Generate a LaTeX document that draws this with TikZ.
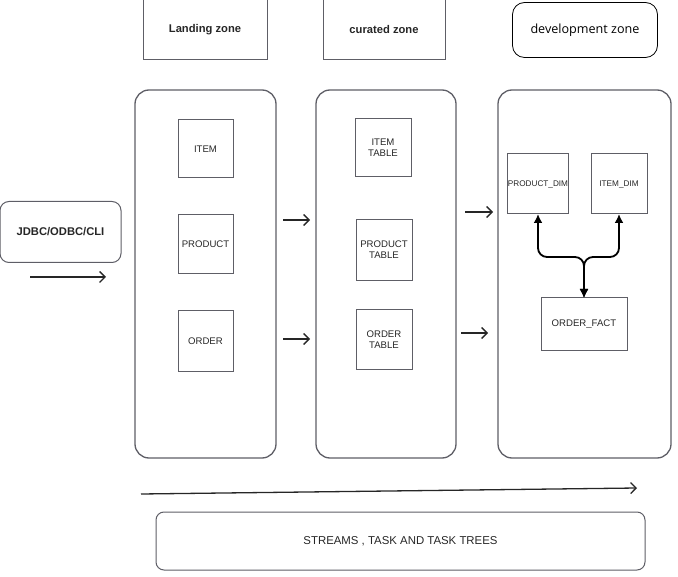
\documentclass[tikz,border=0pt]{standalone}
\usepackage{fontspec}
\setmainfont{Liberation Sans}
\newfontfamily\zonefont{Open Sans}
\usetikzlibrary{arrows.meta}
\definecolor{edge}{HTML}{5E5E66}
\definecolor{ink}{HTML}{262626}
\begin{document}
\begin{tikzpicture}[x=1pt,y=-1pt,
  panel/.style={draw=edge, line width=1.3pt, rounded corners=14pt},
  tablebox/.style={draw=edge, line width=1pt, inner sep=0pt, outer sep=0pt,
    text=ink, font=\fontsize{9.6}{11}\selectfont, align=center},
  dimbox/.style={tablebox, font=\fontsize{8.2}{10}\selectfont},
  zonebox/.style={draw=edge, line width=1pt, inner sep=0pt, outer sep=0pt,
    text=ink, font=\fontsize{11.2}{13}\selectfont\bfseries},
  flow/.style={draw=ink, line width=1.3pt, -{Straight Barb[length=5.5pt,width=11pt]}},
  link/.style={draw=black, line width=1.8pt, rounded corners=9pt,
    {Latex[length=9pt,width=9pt]}-{Latex[length=9pt,width=9pt]}}
]
\useasboundingbox (0,0) rectangle (678,577);

% zone headers
\node[zonebox, minimum width=124, minimum height=60] (landing) at (205,30) {Landing zone};
\node[zonebox, minimum width=122, minimum height=60] (curated) at (384,30) {curated zone};
\node[draw=black, line width=0.8pt, rounded corners=12pt, minimum width=145, minimum height=55,
  inner sep=0pt, font=\zonefont\fontsize{12.6}{15}\selectfont, text=black] (devzone) at (585,30) {development zone};

% zone panels
\node[panel, minimum width=141, minimum height=368] (landpanel) at (205.5,274) {};
\node[panel, minimum width=140, minimum height=368] (curpanel) at (386,274) {};
\node[panel, minimum width=173, minimum height=368] (devpanel) at (584.5,274) {};

% landing tables
\node[tablebox, minimum width=55, minimum height=58] (item) at (205.5,149) {ITEM};
\node[tablebox, minimum width=55, minimum height=59] (product) at (205.5,244) {PRODUCT};
\node[tablebox, minimum width=55, minimum height=61] (order) at (205.5,341) {ORDER};

% curated tables
\node[tablebox, minimum width=56, minimum height=58] (itemt) at (383,148) {ITEM\\TABLE};
\node[tablebox, minimum width=56, minimum height=61] (productt) at (384,250) {PRODUCT\\TABLE};
\node[tablebox, minimum width=56, minimum height=60] (ordert) at (384,340) {ORDER\\TABLE};

% dimensional model
\node[dimbox, minimum width=56, minimum height=60] (pdim) at (538,184) {PRODUCT\_DIM};
\node[dimbox, minimum width=56, minimum height=60] (idim) at (619,184) {ITEM\_DIM};
\node[tablebox, minimum width=86, minimum height=53] (ofact) at (584,324.5) {ORDER\_FACT};
\coordinate (hub) at (584,257);
\draw[link] (pdim.south) |- (ofact.north |- hub) -- (ofact.north);
\draw[link] (idim.south) |- (ofact.north |- hub) -- (ofact.north);

% source
\node[draw=edge, line width=1pt, rounded corners=9pt, minimum width=121, minimum height=61,
  inner sep=0pt, text=ink, font=\fontsize{11.2}{13}\selectfont\bfseries] (src) at (60.5,232) {JDBC/ODBC/CLI};

% flow arrows
\coordinate (s1) at (30,277);   \coordinate (e1) at (106,277);
\coordinate (s2) at (283,220);  \coordinate (e2) at (310,220);
\coordinate (s3) at (283,339);  \coordinate (e3) at (310,339);
\coordinate (s4) at (465,212);  \coordinate (e4) at (493,212);
\coordinate (s5) at (461,333);  \coordinate (e5) at (488,333);
\coordinate (s6) at (141,494);  \coordinate (e6) at (637,488);
\draw[flow] (s1) -- (e1);
\draw[flow] (s2) -- (e2);
\draw[flow] (s3) -- (e3);
\draw[flow] (s4) -- (e4);
\draw[flow] (s5) -- (e5);
\draw[flow] (s6) -- (e6);

% orchestration
\node[draw=edge, line width=1pt, rounded corners=8pt, minimum width=489, minimum height=58,
  inner sep=0pt, text=ink, font=\fontsize{11.4}{13}\selectfont] (streams) at (400.5,541) {STREAMS , TASK AND TASK TREES};
\end{tikzpicture}
\end{document}
